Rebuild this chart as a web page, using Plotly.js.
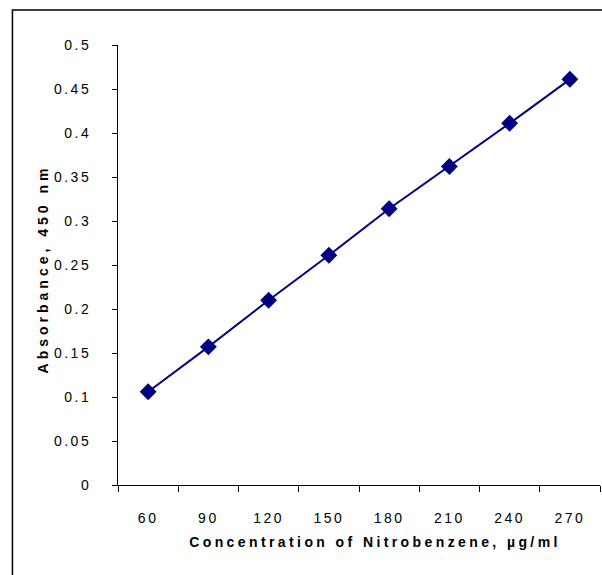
<!DOCTYPE html>
<html>
<head>
<meta charset="utf-8">
<script src="https://cdn.plot.ly/plotly-3.0.1.min.js"></script>
<style>
  html, body { margin: 0; padding: 0; background: #fff; }
  #chart { width: 602px; height: 575px; }
  .xtick text, .ytick text { letter-spacing: 2.5px; }
  .g-xtitle text { letter-spacing: 3.4px; }
  .g-xtitle { transform: translateX(16px); }
  .g-ytitle text { letter-spacing: 4px; }
  .g-ytitle { transform: translateY(4px); }
</style>
</head>
<body>
<div id="chart"></div>
<script>
const concentrations = ["60", "90", "120", "150", "180", "210", "240", "270"];
const absorbance = [0.106, 0.157, 0.210, 0.261, 0.314, 0.362, 0.411, 0.461];
const yTicks = [0, 0.05, 0.1, 0.15, 0.2, 0.25, 0.3, 0.35, 0.4, 0.45, 0.5];
const yTickText = ["0", "0.05", "0.1", "0.15", "0.2", "0.25", "0.3", "0.35", "0.4", "0.45", "0.5"];

const trace = {
  x: concentrations,
  y: absorbance,
  type: "scatter",
  mode: "lines+markers",
  line: { color: "#000080", width: 2 },
  marker: { symbol: "diamond", size: 13, color: "#000080" },
  hoverinfo: "skip"
};

const layout = {
  width: 602,
  height: 575,
  margin: { l: 118, r: 2, t: 45, b: 90 },
  paper_bgcolor: "#ffffff",
  plot_bgcolor: "#ffffff",
  showlegend: false,
  font: { family: "Liberation Sans, Arial, sans-serif", size: 14, color: "#000" },
  xaxis: {
    type: "category",
    range: [-0.5, 7.5],
    tickson: "boundaries",
    ticks: "outside",
    ticklen: 6,
    tickcolor: "#000",
    tickwidth: 1,
    showline: true,
    linecolor: "#000",
    linewidth: 1,
    showgrid: false,
    zeroline: false,
    ticklabelstandoff: 20,
    tickfont: { size: 14, color: "#000" },
    title: {
      text: "<b>Concentration of Nitrobenzene, µg/ml</b>",
      font: { size: 14, color: "#000" },
      standoff: 12
    }
  },
  yaxis: {
    range: [0, 0.5],
    tickvals: yTicks,
    ticktext: yTickText,
    ticks: "outside",
    ticklen: 5,
    tickcolor: "#000",
    tickwidth: 1,
    showline: true,
    linecolor: "#000",
    linewidth: 1,
    showgrid: false,
    zeroline: false,
    ticklabelstandoff: 18,
    tickfont: { size: 14, color: "#000" },
    title: {
      text: "<b>Absorbance, 450 nm</b>",
      font: { size: 14, color: "#000" },
      standoff: 2
    }
  },
  shapes: [
    {
      type: "rect", xref: "paper", yref: "paper",
      x0: -0.219, x1: 1.2, y0: -0.3, y1: 1.0795,
      line: { color: "#000", width: 1.5 },
      fillcolor: "rgba(0,0,0,0)",
      layer: "below"
    }
  ]
};

Plotly.newPlot("chart", [trace], layout, { displayModeBar: false, staticPlot: true });
</script>
</body>
</html>
